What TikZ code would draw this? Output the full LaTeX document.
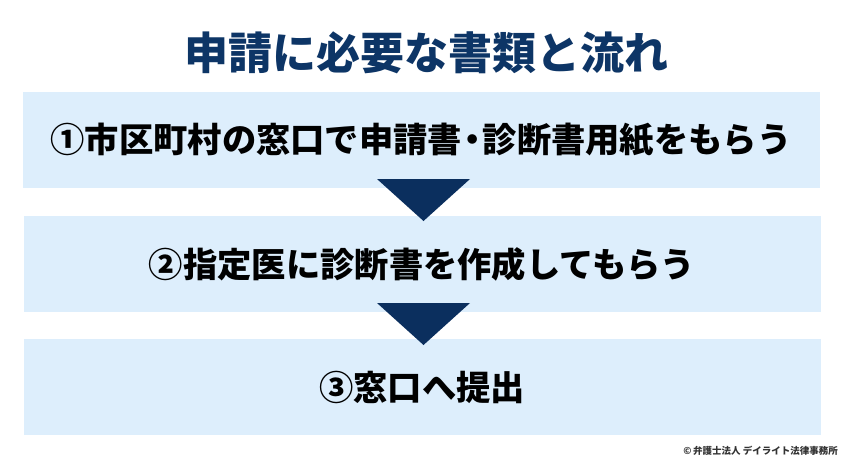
\documentclass[tikz,border=0pt]{standalone}
\usepackage{fontspec}
\newfontfamily\cjk{Noto Sans CJK JP}
\newfontfamily\cjkblack{Noto Sans CJK JP Black}
\definecolor{boxblue}{HTML}{DDEEFC}
\definecolor{navy}{HTML}{0B2F5E}
\definecolor{titleblue}{HTML}{0D3566}
\definecolor{copygray}{HTML}{333333}
\tikzset{
  stepbox/.style={fill=boxblue, draw=none, minimum width=797pt, minimum height=96pt, inner sep=0pt,
    font=\cjkblack\fontsize{34.3pt}{37pt}\selectfont, text=black},
  arrowtri/.style={fill=navy, draw=none},
}
\begin{document}
\begin{tikzpicture}[x=1pt,y=-1pt]
\useasboundingbox (0,0) rectangle (850,464);
\fill[white] (0,0) rectangle (850,464);
\node[font=\cjkblack\fontsize{44pt}{48pt}\selectfont, text=titleblue] (title) at (426,53) {申請に必要な書類と流れ};
\node[stepbox] (s1) at (421,140) {①市区町村の窓口で申請書{\kern-0.2em}・{\kern-0.2em}診断書用紙をもらう};
\node[stepbox] (s2) at (422,264) {②指定医に診断書を作成してもらう};
\node[stepbox] (s3) at (422,387) {③窓口へ提出};
\coordinate (t1a) at (377,179);
\coordinate (t1b) at (470,179);
\coordinate (t1c) at (423.5,221);
\fill[arrowtri] (t1a) -- (t1b) -- (t1c) -- cycle;
\coordinate (t2a) at (377,303);
\coordinate (t2b) at (470,303);
\coordinate (t2c) at (423.5,345);
\fill[arrowtri] (t2a) -- (t2b) -- (t2c) -- cycle;
\node[anchor=east, font=\cjk\bfseries\fontsize{9.5pt}{11pt}\selectfont, text=copygray, inner sep=0pt] (copy) at (838,451) {©\,弁護士法人 デイライト法律事務所};
\end{tikzpicture}
\end{document}
